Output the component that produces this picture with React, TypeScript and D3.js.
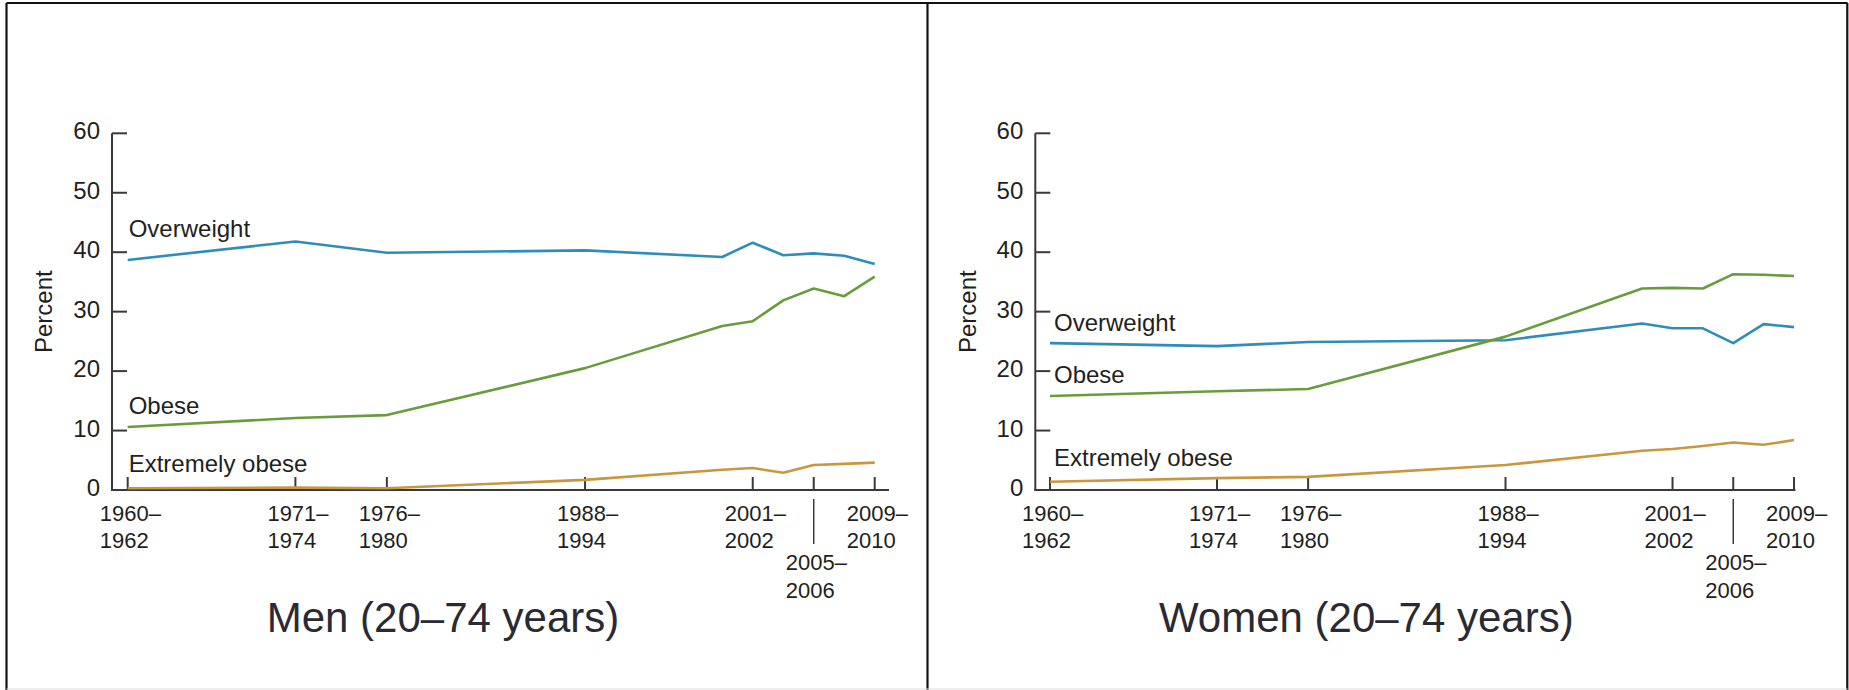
import React from "react";
import * as d3 from "d3";

// Survey periods and their horizontal placement (year position)
const periods = ["1960–1962", "1971–1974", "1976–1980", "1988–1994", "1999–2000", "2001–2002", "2003–2004", "2005–2006", "2007–2008", "2009–2010"];
const periodPos = [1960, 1971, 1977, 1990, 1999, 2001, 2003, 2005, 2007, 2009];

// Tick labels (index into periods), two lines each; "low" ones sit below with a leader line
const tickIdx = [0, 1, 2, 3, 5, 7, 9];
const tickLine1 = ["1960–", "1971–", "1976–", "1988–", "2001–", "2005–", "2009–"];
const tickLine2 = ["1962", "1974", "1980", "1994", "2002", "2006", "2010"];
const tickLow = [false, false, false, false, false, true, false];

const yTicks = [0, 10, 20, 30, 40, 50, 60];

const seriesNames = ["Overweight", "Obese", "Extremely obese"];
const seriesColors = ["#2f8dba", "#6a9b3d", "#c9973f"];

const menOverweight = [38.7, 41.8, 39.9, 40.3, 39.2, 41.6, 39.5, 39.8, 39.4, 38.0];
const menObese = [10.6, 12.1, 12.6, 20.5, 27.6, 28.4, 31.9, 33.9, 32.6, 35.9];
const menExtreme = [0.3, 0.4, 0.3, 1.7, 3.4, 3.7, 2.9, 4.2, 4.4, 4.6];

const womenOverweight = [24.7, 24.2, 24.9, 25.2, 28.0, 27.2, 27.2, 24.7, 27.9, 27.4];
const womenObese = [15.8, 16.6, 17.0, 25.8, 33.9, 34.0, 33.9, 36.3, 36.2, 36.0];
const womenExtreme = [1.4, 2.0, 2.2, 4.2, 6.6, 6.9, 7.4, 8.0, 7.6, 8.4];

// Label vertical positions in data units
const menLabelY = [42.6, 12.8, 3.0];
const womenLabelY = [26.7, 18.0, 4.1];

const FONT = "'Liberation Sans', Arial, Helvetica, sans-serif";
const TEXT = "#231f20";
const AXIS = "#3a3a3a";

type PanelProps = {
  axisX: number;
  x0: number;
  x1: number;
  axisEnd: number;
  series: number[][];
  labelY: number[];
  labelDx: number;
  title: string;
};

function Panel({ axisX, x0, x1, axisEnd, series, labelY, labelDx, title }: PanelProps) {
  const x = d3.scaleLinear().domain([periodPos[0], periodPos[periodPos.length - 1]]).range([x0, x1]);
  const y = d3.scaleLinear().domain([0, 60]).range([490, 133.3]);
  const line = d3
    .line<number>()
    .x((_, i) => x(periodPos[i]))
    .y((d) => y(d));
  const yBase = y(0);
  return (
    <g fontFamily={FONT} fill={TEXT}>
      {/* y axis */}
      <line x1={axisX} x2={axisX} y1={y(60)} y2={yBase} stroke={AXIS} strokeWidth={2} />
      {yTicks.map((t) => (
        <g key={t}>
          <line x1={axisX} x2={axisX + 15} y1={y(t)} y2={y(t)} stroke={AXIS} strokeWidth={2} />
          <text x={axisX - 12} y={y(t)} dy="0.25em" textAnchor="end" fontSize={24}>
            {t}
          </text>
        </g>
      ))}
      <text
        transform={`translate(${axisX - 68},${y(30)}) rotate(-90)`}
        dy="0.35em"
        textAnchor="middle"
        fontSize={24}
      >
        Percent
      </text>
      {/* x axis */}
      <line x1={axisX - 1} x2={axisEnd} y1={yBase} y2={yBase} stroke={AXIS} strokeWidth={2} />
      {tickIdx.map((idx, k) => {
        const tx = x(periodPos[idx]);
        const low = tickLow[k];
        const b1 = low ? 570 : 521;
        const b2 = low ? 598 : 548;
        return (
          <g key={idx}>
            <line x1={tx} x2={tx} y1={yBase} y2={yBase - 13} stroke={AXIS} strokeWidth={2} />
            {low && <line x1={tx} x2={tx} y1={499} y2={544} stroke={AXIS} strokeWidth={1.5} />}
            <text x={tx - 28} y={b1} fontSize={22}>
              {tickLine1[k]}
            </text>
            <text x={tx - 28} y={b2} fontSize={22}>
              {tickLine2[k]}
            </text>
          </g>
        );
      })}
      {/* lines */}
      {series.map((s, i) => (
        <path key={i} d={line(s) || ""} fill="none" stroke={seriesColors[i]} strokeWidth={2.6} strokeLinejoin="round" />
      ))}
      {seriesNames.map((n, i) => (
        <text key={n} x={x(periodPos[0]) + labelDx} y={y(labelY[i])} fontSize={24}>
          {n}
        </text>
      ))}
      <text x={axisX + 331} y={632} textAnchor="middle" fontSize={42} fill="#2a2a33">
        {title}
      </text>
    </g>
  );
}

export default function App() {
  return (
    <svg
      width={1849}
      height={690}
      style={{ position: "absolute", left: 0, top: 0, display: "block", background: "#fff" }}
    >
      <rect x={0} y={0} width={1849} height={690} fill="#fff" />
      {/* frame */}
      <line x1={6.5} x2={1847.5} y1={3} y2={3} stroke="#111" strokeWidth={2.2} />
      <line x1={6.5} x2={6.5} y1={3} y2={690} stroke="#111" strokeWidth={2.2} />
      <line x1={927.5} x2={927.5} y1={3} y2={690} stroke="#111" strokeWidth={2.2} />
      <line x1={1847.3} x2={1847.3} y1={3} y2={690} stroke="#111" strokeWidth={2.2} />
      <line x1={6.5} x2={1847.5} y1={689} y2={689} stroke="#ddd" strokeWidth={1} />
      <Panel
        axisX={112}
        x0={127.7}
        x1={874.7}
        axisEnd={889}
        series={[menOverweight, menObese, menExtreme]}
        labelY={menLabelY}
        labelDx={1}
        title="Men (20–74 years)"
      />
      <Panel
        axisX={1035.3}
        x0={1050}
        x1={1794}
        axisEnd={1795.5}
        series={[womenOverweight, womenObese, womenExtreme]}
        labelY={womenLabelY}
        labelDx={4}
        title="Women (20–74 years)"
      />
    </svg>
  );
}
